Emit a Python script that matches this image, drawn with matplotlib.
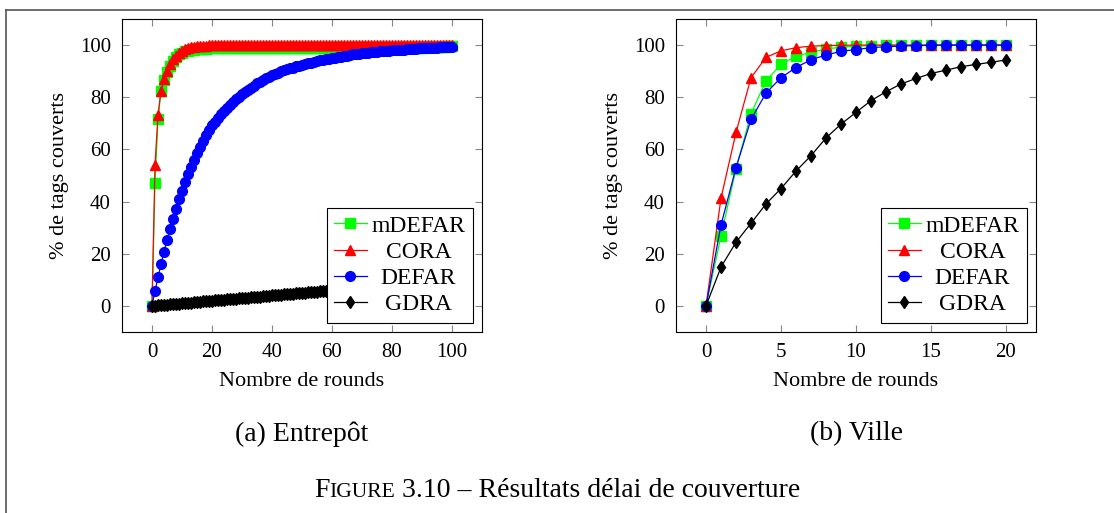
import matplotlib
matplotlib.use("Agg")
import matplotlib.pyplot as plt
from matplotlib.lines import Line2D

plt.rcParams['font.family'] = ['Liberation Serif', 'DejaVu Serif']

# (a) Entrepot : 0..100 rounds
rounds_a = list(range(101))
mdefar_a = [0, 47.3, 71.6, 82.4, 86.6, 89.8, 92.1, 94.0, 95.5, 96.5,
            97.1, 97.6, 97.9, 98.1, 98.3, 98.4, 98.5, 98.6, 98.6, 98.7,
            98.7, 98.7, 98.7, 98.7, 98.7, 98.7, 98.7, 98.7, 98.7, 98.7,
            98.7, 98.7, 98.7, 98.7, 98.7, 98.7, 98.7, 98.7, 98.7, 98.7,
            98.7, 98.8, 98.8, 98.8, 98.8, 98.8, 98.8, 98.8, 98.8, 98.8,
            98.8, 98.8, 98.8, 98.8, 98.8, 98.8, 98.8, 98.8, 98.8, 98.8,
            98.8, 98.9, 98.9, 98.9, 98.9, 98.9, 98.9, 98.9, 98.9, 98.9,
            98.9, 98.9, 98.9, 98.9, 98.9, 98.9, 98.9, 98.9, 98.9, 98.9,
            98.9, 99.0, 99.0, 99.0, 99.0, 99.0, 99.0, 99.0, 99.0, 99.0,
            99.0, 99.1, 99.1, 99.2, 99.2, 99.3, 99.3, 99.4, 99.4, 99.5,
            99.5]
cora_a = [0, 53.9, 73.2, 82.5, 87.0, 90.2, 92.6, 94.5, 96.0, 97.1,
          97.9, 98.5, 98.9, 99.2, 99.4, 99.6, 99.7, 99.8, 99.8, 99.9,
          99.9, 100, 100, 100, 100, 100, 100, 100, 100, 100,
          100, 100, 100, 100, 100, 100, 100, 100, 100, 100,
          100, 100, 100, 100, 100, 100, 100, 100, 100, 100,
          100, 100, 100, 100, 100, 100, 100, 100, 100, 100,
          100, 100, 100, 100, 100, 100, 100, 100, 100, 100,
          100, 100, 100, 100, 100, 100, 100, 100, 100, 100,
          100, 100, 100, 100, 100, 100, 100, 100, 100, 100,
          100, 100, 100, 100, 100, 100, 100, 100, 100, 100,
          100]
defar_a = [0, 5.7, 11.0, 16.0, 20.8, 25.2, 29.4, 33.4, 37.2, 40.8,
           44.2, 47.4, 50.5, 53.4, 56.1, 58.7, 61.1, 63.4, 65.5, 67.5,
           69.2, 70.7, 72.1, 73.4, 74.7, 75.9, 77.1, 78.2, 79.2, 80.2,
           81.2, 82.1, 82.9, 83.7, 84.5, 85.3, 86.0, 86.6, 87.3, 87.9,
           88.5, 89.0, 89.4, 89.9, 90.3, 90.7, 91.1, 91.4, 91.8, 92.1,
           92.4, 92.7, 93.0, 93.3, 93.6, 93.9, 94.1, 94.4, 94.6, 94.8,
           95.0, 95.2, 95.4, 95.6, 95.8, 96.0, 96.2, 96.4, 96.5, 96.7,
           96.8, 97.0, 97.1, 97.2, 97.4, 97.5, 97.6, 97.7, 97.8, 97.9,
           98.0, 98.1, 98.2, 98.3, 98.3, 98.4, 98.5, 98.5, 98.6, 98.7,
           98.7, 98.8, 98.8, 98.9, 99.0, 99.0, 99.1, 99.1, 99.1, 99.2,
           99.2]
gdra_a = [0.0, 0.1, 0.2, 0.3, 0.4, 0.5, 0.6, 0.7, 0.8, 0.9,
          1.0, 1.1, 1.2, 1.3, 1.4, 1.5, 1.6, 1.7, 1.8, 1.9,
          2.0, 2.1, 2.2, 2.3, 2.4, 2.5, 2.6, 2.7, 2.8, 2.9,
          3.0, 3.1, 3.2, 3.3, 3.4, 3.5, 3.6, 3.7, 3.8, 3.9,
          4.0, 4.1, 4.2, 4.3, 4.4, 4.5, 4.6, 4.7, 4.8, 4.9,
          5.0, 5.1, 5.2, 5.3, 5.4, 5.5, 5.6, 5.7, 5.8, 5.9,
          6.0, 6.1, 6.2, 6.3, 6.4, 6.5, 6.6, 6.7, 6.8, 6.9,
          7.0, 7.1, 7.2, 7.3, 7.4, 7.5, 7.6, 7.7, 7.8, 7.9,
          8.0, 8.1, 8.2, 8.3, 8.4, 8.5, 8.6, 8.7, 8.8, 8.9,
          9.0, 9.1, 9.2, 9.3, 9.4, 9.5, 9.6, 9.7, 9.8, 9.9,
          10.0]

# (b) Ville : 0..20 rounds
rounds_b = list(range(21))
mdefar_b = [0, 26.8, 52.6, 73.7, 86.3, 92.6, 95.8, 97.2, 98.5, 99.2,
            99.6, 99.8, 99.9, 100, 100, 100, 100, 100, 100, 100, 100]
cora_b = [0, 41.3, 66.5, 87.5, 95.3, 97.8, 99.0, 99.6, 99.8, 99.9,
          100, 100, 100, 100, 100, 100, 100, 100, 100, 100, 100]
defar_b = [0, 31.0, 53.0, 71.5, 81.6, 87.5, 91.4, 94.4, 96.2, 97.6,
           98.3, 99.0, 99.4, 99.6, 99.8, 99.9, 100, 100, 100, 100, 100]
gdra_b = [0, 14.9, 24.4, 31.7, 39.1, 45.0, 51.7, 57.6, 64.4, 69.7,
          74.2, 78.7, 82.1, 85.1, 87.2, 89.1, 90.4, 91.7, 92.6, 93.4, 94.3]

names = ["mDEFAR", "CORA", "DEFAR", "GDRA"]
colors = ["#00ff00", "#ff0000", "#0000ff", "#000000"]
markers = ["s", "^", "o", "d"]
sizes = [6.5, 6.5, 7, 6.5]

W, H = 1114, 513
fig = plt.figure(figsize=(W / 100, H / 100), dpi=100)

# frame around the figure (only top and left visible)
fig.add_artist(Line2D([6 / W, 1], [1 - 10 / H, 1 - 10 / H], color="#555555", lw=1.2))
fig.add_artist(Line2D([6 / W, 6 / W], [0, 1 - 10 / H], color="#555555", lw=1.2))


def panel(ax, x, series, xlim, xticks):
    for y, name, c, m, s in zip(series, names, colors, markers, sizes):
        ax.plot(x, y, color=c, marker=m, markersize=s, markeredgecolor=c,
                markerfacecolor=c, lw=0.9, label=name)
    ax.set_xlim(xlim)
    ax.set_ylim(-10, 110)
    ax.set_xticks(xticks)
    ax.set_yticks([0, 20, 40, 60, 80, 100])
    ax.tick_params(direction="in", top=True, right=True, length=5, width=0.8,
                   color="#888888", labelsize=15, pad=8)
    for sp in ax.spines.values():
        sp.set_linewidth(0.8)
    ax.set_xlabel("Nombre de rounds", fontsize=16, labelpad=7)
    ax.set_ylabel("% de tags couverts", fontsize=16, labelpad=8)
    leg = ax.legend(loc="lower right", bbox_to_anchor=(1, 0), fontsize=17,
                    fancybox=False, edgecolor="black", framealpha=1,
                    handlelength=1.4, handletextpad=0.2, labelspacing=0.2,
                    borderpad=0.3, borderaxespad=0.4, numpoints=1)
    leg.get_frame().set_linewidth(0.8)
    return leg


ax1 = fig.add_axes([122 / W, 1 - 332 / H, 360 / W, 313 / H])
leg1 = panel(ax1, rounds_a, [mdefar_a, cora_a, defar_a, gdra_a], (-10, 110),
             [0, 20, 40, 60, 80, 100])
ax2 = fig.add_axes([676 / W, 1 - 332 / H, 360 / W, 313 / H])
leg2 = panel(ax2, rounds_b, [mdefar_b, cora_b, defar_b, gdra_b], (-2, 22),
             [0, 5, 10, 15, 20])

fig.text(302 / W, 1 - 434 / H, "(a) Entrepôt", fontsize=20, ha="center", va="center")
fig.text(856 / W, 1 - 434 / H, "(b) Ville", fontsize=20, ha="center", va="center")

# caption with small caps "Figure"
parts = [("F", 20), ("IGURE", 15.5), (" 3.10 – Résultats délai de couverture", 20)]
cap = [fig.text(0, 1 - 497 / H, t, fontsize=s, ha="left", va="baseline") for t, s in parts]

fig.canvas.draw()
r = fig.canvas.get_renderer()

# center legend labels like pgfplots
for leg in (leg1, leg2):
    texts = leg.get_texts()
    ws = [t.get_window_extent(r).width for t in texts]
    for t, w in zip(texts, ws):
        t.set_position(((max(ws) - w) / 2, 0))

ws = [t.get_window_extent(r).width for t in cap]
x0 = (557 - sum(ws) / 2)
for t, w in zip(cap, ws):
    t.set_x(x0 / W)
    x0 += w

fig.savefig("out.png", dpi=100)
